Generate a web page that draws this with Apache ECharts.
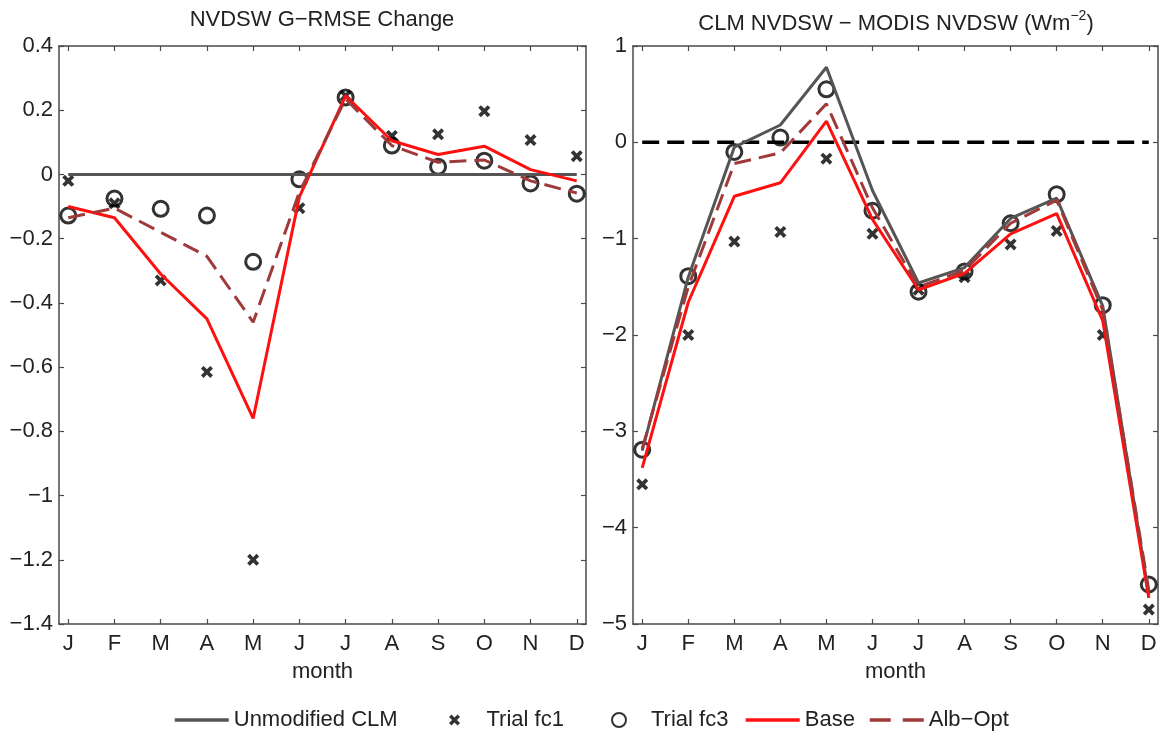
<!DOCTYPE html>
<html>
<head>
<meta charset="utf-8">
<script src="https://cdn.jsdelivr.net/npm/echarts@6/dist/echarts.min.js"></script>
<style>
  html, body { margin: 0; padding: 0; background: #fff; }
  #chart { width: 1160px; height: 736px; }
</style>
</head>
<body>
<div id="chart"></div>
<script>
// ============================================
// 数据
// ============================================

const months = ['J', 'F', 'M', 'A', 'M', 'J', 'J', 'A', 'S', 'O', 'N', 'D'];
const monthIdx = [1, 2, 3, 4, 5, 6, 7, 8, 9, 10, 11, 12];

// 左图: NVDSW G-RMSE Change
const unmodLeft = [0, 0, 0, 0, 0, 0, 0, 0, 0, 0, 0, 0];
const fc1Left = [-0.02, -0.09, -0.33, -0.615, -1.2, -0.105, 0.245, 0.12, 0.125, 0.197, 0.107, 0.057];
const fc3Left = [-0.128, -0.075, -0.107, -0.128, -0.272, -0.015, 0.24, 0.09, 0.024, 0.043, -0.028, -0.06];
const baseLeft = [-0.1, -0.135, -0.31, -0.45, -0.76, -0.07, 0.245, 0.105, 0.062, 0.088, 0.015, -0.02];
const albLeft = [-0.135, -0.105, -0.18, -0.255, -0.46, -0.055, 0.235, 0.09, 0.038, 0.045, -0.02, -0.058];

// 右图: CLM NVDSW - MODIS NVDSW
const zeroRight = [0, 0, 0, 0, 0, 0, 0, 0, 0, 0, 0, 0];
const unmodRight = [-3.2, -1.4, -0.05, 0.18, 0.78, -0.5, -1.46, -1.3, -0.79, -0.58, -1.7, -4.7];
const fc1Right = [-3.55, -2.0, -1.03, -0.93, -0.17, -0.95, -1.53, -1.4, -1.06, -0.92, -2.0, -4.85];
const fc3Right = [-3.19, -1.39, -0.1, 0.05, 0.55, -0.71, -1.55, -1.34, -0.84, -0.54, -1.69, -4.59];
const baseRight = [-3.38, -1.66, -0.56, -0.42, 0.22, -0.8, -1.53, -1.36, -0.95, -0.74, -1.85, -4.73];
const albRight = [-3.18, -1.5, -0.22, -0.11, 0.4, -0.68, -1.5, -1.33, -0.84, -0.6, -1.74, -4.65];

// 坐标轴范围
const yLeft = { min: -1.4, max: 0.4, interval: 0.2 };
const yRight = { min: -5, max: 1, interval: 1 };

const legendNames = ['Unmodified CLM', 'Trial fc1', 'Trial fc3', 'Base', 'Alb−Opt'];

// ============================================
// 样式
// ============================================

const FONT = 'Liberation Sans, Arial, Helvetica, sans-serif';
const TEXT = '#222';
const AXIS = '#4a4a4a';
const GRAY = '#555555';
const RED = '#ff1010';
const DARKRED = '#a03a3a';
const crossPath = 'path://M0,2.2L2.2,0L5,2.8L7.8,0L10,2.2L7.2,5L10,7.8L7.8,10L5,7.2L2.2,10L0,7.8L2.8,5Z';

const grids = [
    { left: 59, top: 46, width: 527, height: 578 },
    { left: 633, top: 46, width: 525, height: 578 }
];

function toPoints(arr) {
    return arr.map((v, i) => [monthIdx[i], v]);
}

function fmtMinus(v) {
    return String(Math.round(v * 10) / 10).replace('-', '−');
}

function makeXAxes(g) {
    const common = {
        type: 'value', gridIndex: g, min: 0.8, max: 12.2,
        axisLine: { show: true, onZero: false, lineStyle: { color: AXIS, width: 1.5 } },
        axisTick: { show: true, inside: true, length: 5, customValues: monthIdx, lineStyle: { color: AXIS, width: 1.2 } },
        splitLine: { show: false }
    };
    return [
        Object.assign({}, common, {
            position: 'bottom',
            axisLabel: {
                customValues: monthIdx, formatter: v => months[v - 1],
                fontSize: 22, color: TEXT, fontFamily: FONT, margin: 9
            },
            name: 'month', nameLocation: 'middle', nameGap: 37,
            nameTextStyle: { fontSize: 22, color: TEXT, fontFamily: FONT }
        }),
        Object.assign({}, common, { position: 'top', axisLabel: { show: false } })
    ];
}

function makeYAxes(g, r) {
    const common = {
        type: 'value', gridIndex: g, min: r.min, max: r.max, interval: r.interval,
        axisLine: { show: true, onZero: false, lineStyle: { color: AXIS, width: 1.5 } },
        axisTick: { show: true, inside: true, length: 5, lineStyle: { color: AXIS, width: 1.2 } },
        splitLine: { show: false }
    };
    return [
        Object.assign({}, common, {
            position: 'left',
            axisLabel: { formatter: fmtMinus, fontSize: 22, color: TEXT, fontFamily: FONT, margin: 6 }
        }),
        Object.assign({}, common, { position: 'right', axisLabel: { show: false } })
    ];
}

function lineSeries(name, arr, g, color, dashed, width) {
    return {
        name: name, type: 'line', xAxisIndex: g * 2, yAxisIndex: g * 2,
        data: toPoints(arr), symbol: 'none', silent: true,
        lineStyle: { color: color, width: width || 3, type: dashed ? [17, 8] : 'solid', cap: 'butt' },
        itemStyle: { color: color }
    };
}

function crossSeries(arr, g) {
    return {
        name: 'Trial fc1', type: 'scatter', xAxisIndex: g * 2, yAxisIndex: g * 2,
        data: toPoints(arr), symbol: crossPath, symbolSize: 12, symbolKeepAspect: true, silent: true,
        itemStyle: { color: '#000' }
    };
}

function circleSeries(arr, g) {
    return {
        name: 'Trial fc3', type: 'scatter', xAxisIndex: g * 2, yAxisIndex: g * 2,
        data: toPoints(arr), symbol: 'circle', symbolSize: 15, silent: true,
        itemStyle: { color: 'rgba(255,255,255,0)', borderColor: '#000', borderWidth: 3 }
    };
}

// 图例: 每项单独定位
const legendLeft = [173, 449, 611, 744, 868];
const legendH = [14, 11, 14, 14, 14];
const legendIsLine = [true, false, false, true, true];
const legends = legendNames.map((n, i) => {
    const lg = {
        data: [n], left: legendLeft[i], top: 709, padding: 0,
        itemWidth: 54, itemHeight: legendH[i],
        textStyle: { fontSize: 22, color: TEXT, fontFamily: FONT },
        selectedMode: false
    };
    if (legendIsLine[i]) {
        lg.itemStyle = { opacity: 0 };
        lg.lineStyle = { width: 3.5 };
        if (n === 'Alb−Opt') lg.lineStyle.type = [21, 12];
    }
    return lg;
});

const option = {
    animation: false,
    backgroundColor: '#fff',
    textStyle: { fontFamily: FONT },
    title: [
        {
            text: 'NVDSW G−RMSE Change', left: 322, top: 9, padding: 0, textAlign: 'center',
            textStyle: { fontSize: 22, fontWeight: 'normal', color: TEXT, fontFamily: FONT }
        },
        {
            text: '{a|CLM NVDSW − MODIS NVDSW (Wm}{s|−2}{a|)}', left: 896, top: 7, padding: 0, textAlign: 'center',
            textStyle: {
                fontWeight: 'normal',
                rich: {
                    a: { fontSize: 22, fontWeight: 'normal', color: TEXT, fontFamily: FONT, lineHeight: 28, verticalAlign: 'bottom' },
                    s: { fontSize: 14, fontWeight: 'normal', color: TEXT, fontFamily: FONT, lineHeight: 28, verticalAlign: 'top', padding: [2, 0, 0, 0] }
                }
            }
        }
    ],
    legend: legends,
    grid: grids,
    xAxis: makeXAxes(0).concat(makeXAxes(1)),
    yAxis: makeYAxes(0, yLeft).concat(makeYAxes(1, yRight)),
    series: [
        lineSeries('Unmodified CLM', unmodLeft, 0, GRAY, false, 3),
        crossSeries(fc1Left, 0),
        circleSeries(fc3Left, 0),
        lineSeries('Base', baseLeft, 0, RED, false, 3),
        lineSeries('Alb−Opt', albLeft, 0, DARKRED, true, 3),

        lineSeries('zero', zeroRight, 1, '#000', true, 3.5),
        lineSeries('Unmodified CLM', unmodRight, 1, GRAY, false, 3),
        crossSeries(fc1Right, 1),
        circleSeries(fc3Right, 1),
        lineSeries('Base', baseRight, 1, RED, false, 3),
        lineSeries('Alb−Opt', albRight, 1, DARKRED, true, 3)
    ]
};

const chart = echarts.init(document.getElementById('chart'), null, { renderer: 'canvas' });
chart.setOption(option);
</script>
</body>
</html>
